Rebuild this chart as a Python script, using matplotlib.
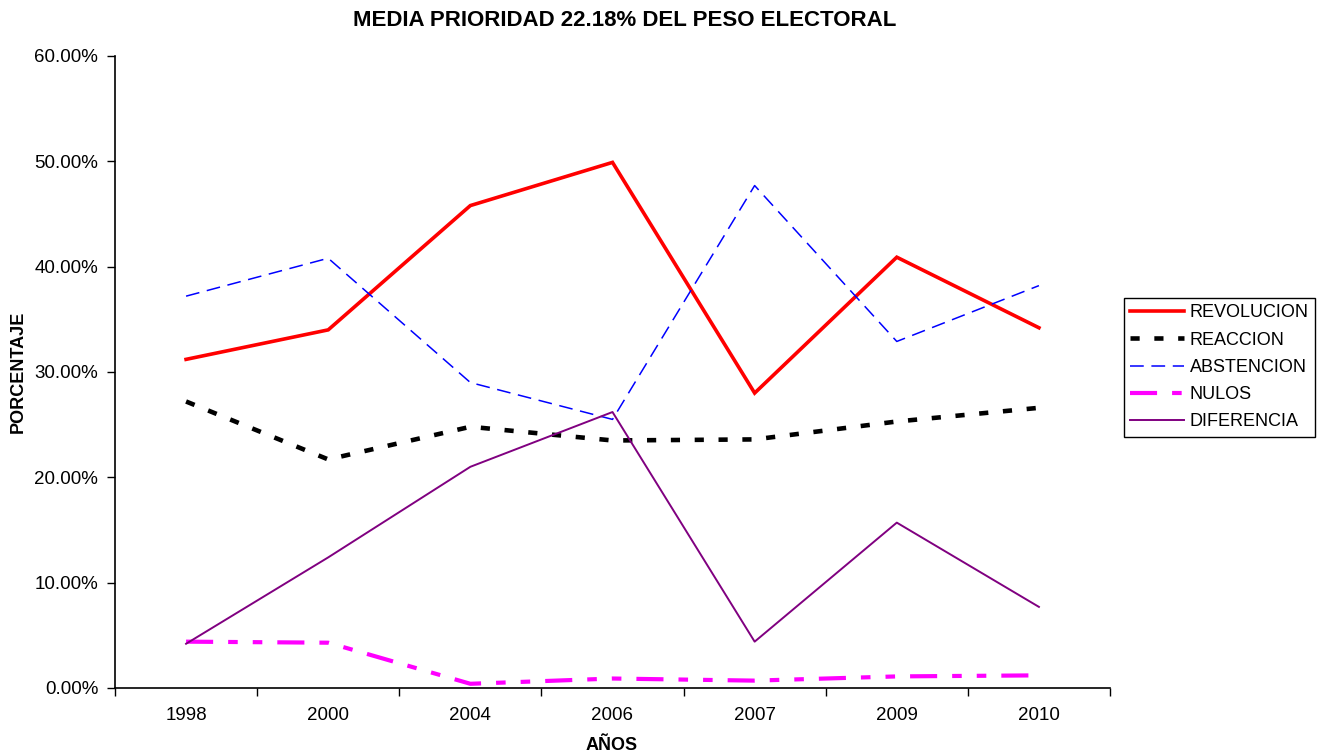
import matplotlib
matplotlib.use("Agg")
import matplotlib.pyplot as plt
from matplotlib.ticker import FuncFormatter, FixedLocator

plt.rcParams['font.family'] = ['Liberation Sans', 'DejaVu Sans']

years = ["1998", "2000", "2004", "2006", "2007", "2009", "2010"]
revolucion = [31.2, 34.0, 45.8, 49.9, 28.0, 40.9, 34.2]
reaccion = [27.2, 21.7, 24.8, 23.5, 23.6, 25.3, 26.6]
abstencion = [37.2, 40.8, 29.0, 25.5, 47.7, 32.9, 38.2]
nulos = [4.4, 4.3, 0.4, 0.9, 0.7, 1.1, 1.2]
diferencia = [4.2, 12.4, 21.0, 26.2, 4.4, 15.7, 7.7]

title = "MEDIA PRIORIDAD 22.18% DEL PESO ELECTORAL"

fig = plt.figure(figsize=(13.24, 7.53), dpi=100)
ax = fig.add_axes([115/1324, 1-688/753, (1110-115)/1324, (688-56)/753])

x = list(range(len(years)))
ax.plot(x, revolucion, color='#ff0000', lw=2.6, solid_joinstyle='miter', label='REVOLUCION')
ax.plot(x, reaccion, color='black', lw=3.3, dashes=(2, 3.2), dash_capstyle='butt', label='REACCION')
ax.plot(x, abstencion, color='#0000ff', lw=1.1, dashes=(9, 5), label='ABSTENCION')
ax.plot(x, nulos, color='#ff00ff', lw=3.0, dashes=(6.5, 3.6, 2.3, 3.6, 2.3, 3.6), label='NULOS')
ax.plot(x, diferencia, color='#800080', lw=1.4, label='DIFERENCIA')

ax.set_xlim(-0.5, len(years) - 0.5)
ax.set_ylim(0, 60)
ax.xaxis.set_major_locator(FixedLocator([i - 0.5 for i in range(len(years) + 1)]))
ax.xaxis.set_minor_locator(FixedLocator(x))
ax.set_xticklabels([])
ax.set_xticklabels(years, minor=True)
ax.tick_params(axis='x', which='major', length=6, width=1, direction='out', color='black')
ax.tick_params(axis='x', which='minor', length=0, labelsize=13.5, pad=14)
ax.set_yticks([0, 10, 20, 30, 40, 50, 60])
ax.yaxis.set_major_formatter(FuncFormatter(lambda v, p: f"{v:.2f}%"))
ax.tick_params(axis='y', length=6, width=1, direction='out', labelsize=13.5, pad=6)

for s in ['top', 'right']:
    ax.spines[s].set_visible(False)
for s in ['left', 'bottom']:
    ax.spines[s].set_color('black')
    ax.spines[s].set_linewidth(1.2)

fig.text(625/1324, 1-21/753, title, ha='center', va='center', fontsize=16, fontweight='bold')
fig.text(18/1324, 1-372/753, "PORCENTAJE", ha='center', va='center', rotation=90, fontsize=13, fontweight='bold')
fig.text(612/1324, 1-745/753, "AÑOS", ha='center', va='center', fontsize=13, fontweight='bold')

leg = fig.legend(loc='upper left', bbox_to_anchor=(1124/1324, 1-298/753), fontsize=13,
                 frameon=True, fancybox=False, edgecolor='black', framealpha=1,
                 handlelength=3.0, handletextpad=0.3, labelspacing=0.57,
                 borderpad=0.35, borderaxespad=0)
leg.get_frame().set_linewidth(1.0)

fig.savefig("out.png", dpi=100)
